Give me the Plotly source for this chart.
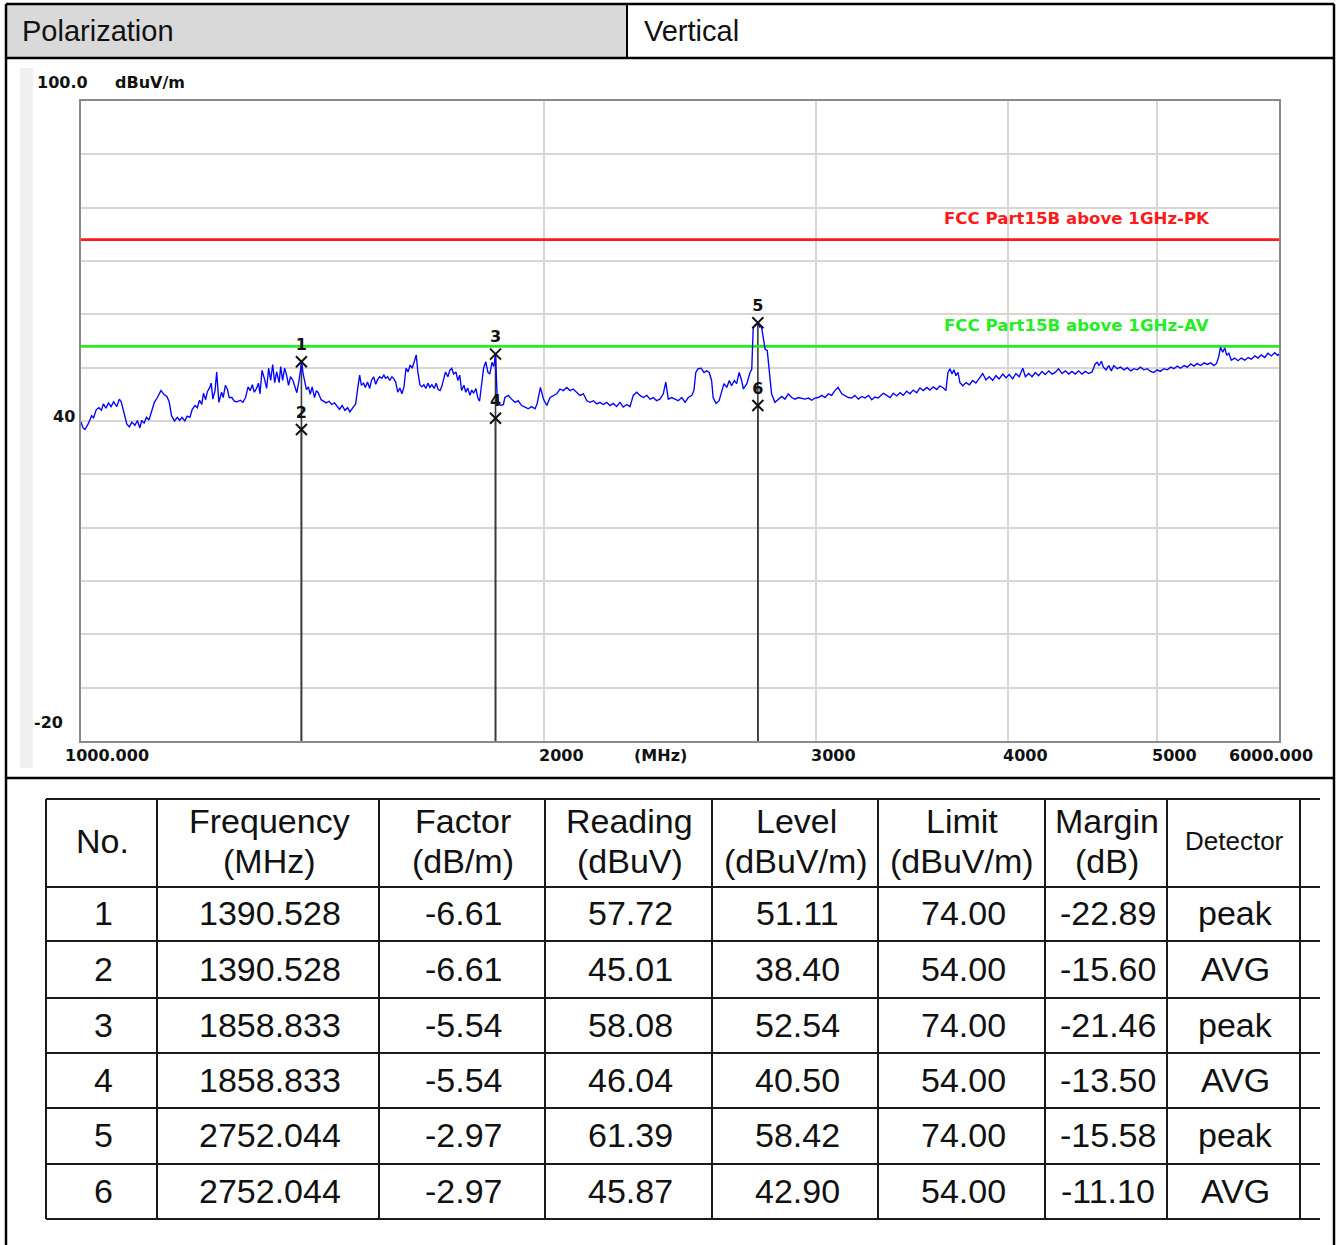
import math
import plotly.graph_objects as go

W, H = 1338, 1245


def X(px):
    return px / W


def Y(py):
    return 1 - py / H


# ---------------- data ----------------
polarization_label = "Polarization"
polarization_value = "Vertical"

trace_mhz = [
    1000, 1003, 1006, 1011, 1016, 1019, 1023, 1027, 1031, 1034,
    1038, 1042, 1046, 1050, 1055, 1059, 1062, 1067, 1071, 1075,
    1079, 1084, 1088, 1092, 1095, 1099, 1103, 1107, 1112, 1116,
    1121, 1124, 1127, 1132, 1137, 1141, 1145, 1150, 1155, 1159,
    1163, 1168, 1172, 1177, 1181, 1186, 1190, 1194, 1198, 1201,
    1205, 1208, 1212, 1215, 1218, 1222, 1225, 1229, 1234, 1237,
    1241, 1245, 1248, 1253, 1258, 1263, 1269, 1274, 1279, 1284,
    1288, 1292, 1296, 1300, 1304, 1307, 1311, 1316, 1320, 1324,
    1328, 1332, 1336, 1340, 1345, 1348, 1352, 1356, 1360, 1364,
    1368, 1373, 1377, 1381, 1385, 1388, 1391, 1394, 1397, 1401,
    1405, 1409, 1413, 1418, 1422, 1426, 1432, 1438, 1443, 1449,
    1455, 1461, 1466, 1472, 1478, 1484, 1490, 1495, 1501, 1508,
    1512, 1517, 1521, 1526, 1530, 1535, 1540, 1544, 1549, 1554,
    1558, 1563, 1568, 1573, 1577, 1582, 1587, 1592, 1596, 1601,
    1606, 1611, 1616, 1621, 1626, 1631, 1636, 1641, 1646, 1651,
    1655, 1660, 1665, 1670, 1675, 1680, 1685, 1690, 1696, 1701,
    1706, 1711, 1715, 1720, 1725, 1731, 1736, 1741, 1746, 1752,
    1757, 1762, 1767, 1773, 1778, 1783, 1789, 1794, 1799, 1805,
    1810, 1815, 1821, 1826, 1832, 1838, 1843, 1849, 1854, 1859,
    1863, 1867, 1874, 1881,
    1885, 1895, 1904, 1914, 1923, 1933, 1943, 1952, 1962, 1972,
    1978, 1988, 1997, 2007, 2017, 2027, 2037, 2047, 2057, 2068,
    2078, 2088, 2099, 2109, 2120, 2131, 2141, 2152, 2163, 2173,
    2184, 2195, 2206, 2217, 2228, 2239, 2250, 2262, 2273, 2284,
    2296, 2307, 2319, 2331, 2342, 2354, 2365, 2377, 2389, 2398,
    2407, 2419, 2431, 2443, 2456, 2468, 2480, 2493, 2501, 2508,
    2517, 2528, 2539, 2549, 2559, 2568, 2574, 2585, 2597, 2607,
    2616, 2627, 2637, 2646, 2657, 2666, 2676, 2686, 2693, 2707,
    2720, 2727, 2733, 2741, 2752, 2760, 2766, 2772, 2782, 2791,
    2800, 2809, 2823, 2837, 2852, 2866, 2880, 2895, 2909, 2923,
    2939, 2953, 2968, 2983, 2997, 3012, 3028, 3043, 3058, 3073,
    3088, 3103, 3120, 3135, 3151, 3167, 3182, 3198, 3215, 3230,
    3247, 3263, 3279, 3294,
    3320, 3337, 3354, 3370, 3387, 3404, 3421, 3438, 3455, 3472,
    3490, 3507, 3525, 3543, 3560, 3578, 3596, 3613, 3632, 3646,
    3657, 3668, 3679, 3690, 3701, 3712, 3723, 3739, 3757, 3776,
    3795, 3813, 3832, 3852, 3871, 3890, 3910, 3929, 3948, 3969,
    3989, 4008, 4029, 4048, 4068, 4090, 4106, 4126, 4147, 4167,
    4188, 4209, 4230, 4252, 4273, 4293, 4315, 4337, 4359, 4381,
    4402, 4424, 4446, 4469, 4491, 4514, 4536, 4558, 4571, 4585,
    4600, 4614, 4632, 4651, 4669, 4687, 4710, 4734, 4759, 4782,
    4806, 4830, 4853, 4877, 4902, 4927, 4951, 4976, 5000, 5024,
    5052, 5077, 5103, 5128, 5153, 5179, 5206, 5231, 5258, 5284,
    5309, 5336, 5364, 5390, 5417, 5444, 5465, 5481, 5497, 5516,
    5532, 5549, 5566, 5587, 5615, 5643, 5671, 5701, 5729, 5757,
    5787, 5815, 5843, 5873, 5902, 5931, 5961, 5990, 6000,
]

trace_dbuv = [
    39.8, 38.7, 38.4, 39.5, 41.0, 40.6, 42.1, 42.5, 42.0, 43.2,
    42.4, 43.4, 42.7, 43.6, 42.7, 44.1, 43.6, 41.3, 39.4, 38.9,
    39.8, 39.2, 40.1, 38.7, 40.1, 39.6, 40.7, 40.2, 41.9, 43.5,
    44.4, 45.0, 45.7, 45.0, 44.6, 43.6, 41.0, 40.0, 40.7, 40.1,
    40.7, 40.0, 40.9, 40.7, 42.2, 42.9, 42.5, 43.9, 43.1, 45.2,
    44.0, 45.5, 46.2, 47.1, 44.1, 45.7, 49.2, 43.5, 45.4, 44.4,
    46.7, 45.9, 44.4, 44.4, 43.7, 43.6, 43.9, 43.5, 44.4, 46.4,
    45.7, 46.8, 45.4, 46.1, 47.1, 45.1, 49.5, 47.8, 46.1, 49.9,
    47.6, 50.6, 47.2, 49.2, 47.2, 50.2, 47.6, 49.9, 48.6, 46.7,
    48.3, 47.6, 46.3, 45.3, 47.3, 49.2, 51.1, 48.9, 47.5, 45.9,
    46.4, 45.0, 46.4, 44.4, 45.7, 45.3, 44.0, 43.7, 43.4, 43.7,
    43.1, 43.4, 42.9, 42.2, 42.9, 42.0, 42.5, 41.7, 42.4, 43.2,
    45.7, 48.6, 46.7, 47.1, 46.3, 47.3, 46.1, 47.6, 48.3, 46.9,
    47.7, 48.3, 48.0, 48.6, 48.0, 48.3, 47.6, 48.3, 48.0, 47.3,
    45.4, 46.2, 45.1, 46.4, 49.9, 49.2, 50.5, 49.9, 51.1, 52.4,
    49.2, 46.8, 46.4, 46.8, 46.1, 47.1, 46.3, 46.8, 46.1, 47.1,
    45.9, 45.7, 46.4, 47.7, 49.2, 48.3, 49.5, 49.9, 48.8, 49.2,
    47.6, 48.6, 45.7, 46.7, 45.4, 46.2, 44.8, 45.8, 45.2, 46.1,
    44.4, 43.7, 46.7, 49.9, 51.1, 49.1, 48.8, 51.0, 50.2, 52.5,
    45.1, 43.2, 42.9, 43.1,
    44.4, 44.8, 44.1, 43.5, 43.8, 42.9, 42.6, 42.3, 42.7, 42.3,
    43.2, 46.3, 44.1, 42.9, 44.4, 44.8, 45.1, 46.0, 45.7, 46.3,
    45.7, 46.0, 45.4, 44.8, 45.1, 43.8, 43.5, 43.8, 43.2, 43.5,
    43.1, 43.5, 42.9, 43.3, 42.7, 43.5, 42.6, 43.1, 42.7, 44.8,
    45.4, 44.8, 44.4, 44.8, 44.1, 44.4, 43.8, 44.1, 45.1, 47.3,
    44.1, 44.4, 44.1, 43.8, 44.4, 43.5, 44.4, 44.8, 45.7, 49.1,
    49.8, 49.9, 49.1, 49.4, 49.1, 47.6, 44.4, 43.3, 43.8, 45.4,
    47.0, 46.3, 47.6, 46.6, 47.6, 47.0, 49.1, 47.6, 46.0, 47.0,
    49.1, 49.7, 57.6, 58.0, 58.4, 57.6, 57.9, 56.3, 53.5, 53.2,
    48.8, 45.1, 43.5, 44.1, 44.6, 44.1, 45.1, 44.4, 44.1, 44.4,
    44.3, 44.1, 44.3, 43.9, 44.3, 44.4, 44.8, 44.4, 45.1, 44.8,
    45.7, 46.3, 45.1, 44.8, 44.4, 44.3, 44.8, 44.1, 44.6, 44.3,
    44.8, 44.0, 44.5, 44.3,
    45.2, 44.8, 44.4, 45.2, 44.7, 45.3, 44.8, 45.6, 45.1, 45.8,
    45.3, 46.2, 45.7, 46.3, 45.8, 46.4, 45.9, 46.6, 46.2, 45.7,
    49.1, 49.8, 48.8, 49.6, 48.5, 49.1, 47.2, 46.6, 47.2, 46.8,
    47.6, 47.1, 47.9, 48.9, 47.7, 48.3, 47.6, 48.5, 47.9, 48.8,
    48.1, 48.7, 47.9, 48.9, 48.3, 49.9, 48.3, 48.9, 48.3, 49.1,
    48.5, 49.3, 48.7, 49.4, 48.8, 49.1, 49.8, 48.9, 49.4, 48.8,
    49.3, 48.8, 49.4, 48.8, 49.3, 48.9, 49.2, 50.7, 51.0, 50.4,
    51.2, 50.1, 49.6, 50.4, 49.4, 50.4, 49.8, 50.1, 49.6, 50.0,
    49.4, 49.8, 49.6, 50.1, 49.6, 49.8, 49.3, 49.1, 49.6, 49.3,
    49.8, 49.6, 50.1, 49.8, 50.3, 49.9, 50.4, 50.1, 50.7, 50.3,
    50.8, 50.4, 50.9, 50.6, 50.9, 50.4, 50.8, 51.9, 53.8, 52.9,
    53.7, 52.3, 52.7, 51.4, 51.8, 51.3, 51.8, 51.4, 51.9, 51.6,
    52.2, 51.8, 52.4, 51.9, 52.7, 52.2, 52.8, 52.3, 52.6,
]

limit_pk = 74.0
limit_av = 54.0
limit_pk_label = "FCC Part15B above 1GHz-PK"
limit_av_label = "FCC Part15B above 1GHz-AV"

x_range_mhz = [1000, 6000]
y_range = [-20, 100]
x_grid_mhz = [2000, 3000, 4000, 5000]
x_tick_vals = [1000, 2000, 3000, 4000, 5000, 6000]
x_tick_text = ["1000.000", "2000", "3000", "4000", "5000", "6000.000"]
x_unit = "(MHz)"
y_unit = "dBuV/m"
y_tick_vals = [100, 40, -20]
y_tick_text = ["100.0", "40", "-20"]

# table
col_headers = [["No."], ["Frequency", "(MHz)"], ["Factor", "(dB/m)"],
               ["Reading", "(dBuV)"], ["Level", "(dBuV/m)"],
               ["Limit", "(dBuV/m)"], ["Margin", "(dB)"], ["Detector"]]
mk_no = [1, 2, 3, 4, 5, 6]
mk_freq = [1390.528, 1390.528, 1858.833, 1858.833, 2752.044, 2752.044]
mk_factor = [-6.61, -6.61, -5.54, -5.54, -2.97, -2.97]
mk_reading = [57.72, 45.01, 58.08, 46.04, 61.39, 45.87]
mk_level = [51.11, 38.40, 52.54, 40.50, 58.42, 42.90]
mk_limit = [74.00, 54.00, 74.00, 54.00, 74.00, 54.00]
mk_margin = [-22.89, -15.60, -21.46, -13.50, -15.58, -11.10]
mk_detector = ["peak", "AVG", "peak", "AVG", "peak", "AVG"]

# ---------------- figure ----------------
fig = go.Figure()

CHART_FONT = "DejaVu Sans"
TABLE_FONT = "Arial, Liberation Sans, sans-serif"

# marker drop lines
vx, vy = [], []
for f, lv in zip(mk_freq, mk_level):
    vx += [f, f, None]
    vy += [lv, y_range[0], None]
fig.add_trace(go.Scatter(x=vx, y=vy, mode="lines",
                         line=dict(color="#3a3a3a", width=1.6),
                         hoverinfo="skip", showlegend=False))

# limit lines
fig.add_trace(go.Scatter(x=x_range_mhz, y=[limit_pk, limit_pk], mode="lines",
                         line=dict(color="#ff1a1a", width=2.6), showlegend=False))
fig.add_trace(go.Scatter(x=x_range_mhz, y=[limit_av, limit_av], mode="lines",
                         line=dict(color="#22ee22", width=2.6), showlegend=False))

# spectrum trace
fig.add_trace(go.Scatter(x=trace_mhz, y=trace_dbuv, mode="lines",
                         line=dict(color="#0000ff", width=1.35), showlegend=False))

# markers
fig.add_trace(go.Scatter(x=mk_freq, y=mk_level, mode="markers+text",
                         text=[str(n) for n in mk_no], textposition="top center",
                         textfont=dict(family=CHART_FONT, size=16, color="#111111", weight="bold"),
                         marker=dict(symbol="x-thin", size=11,
                                     line=dict(color="#111111", width=2)),
                         showlegend=False))

shapes = []


def line(x0, y0, x1, y1, color="black", w=2):
    shapes.append(dict(type="line", xref="paper", yref="paper",
                       x0=X(x0), y0=Y(y0), x1=X(x1), y1=Y(y1),
                       line=dict(color=color, width=w), layer="above"))


def rect(x0, y0, x1, y1, fill):
    shapes.append(dict(type="rect", xref="paper", yref="paper",
                       x0=X(x0), y0=Y(y0), x1=X(x1), y1=Y(y1),
                       fillcolor=fill, line=dict(width=0), layer="below"))


# page frame
rect(6, 4, 627, 58, "#d9d9d9")
rect(20, 68, 33, 768, "#f0f0f0")
line(6, 4, 1334, 4, w=2.5)
line(6, 58, 1334, 58, w=2.5)
line(6, 778, 1334, 778, w=2.5)
line(6, 4, 6, 1245, w=2.5)
line(1334, 4, 1334, 1245, w=2.5)
line(627, 4, 627, 58, w=2)

# table grid
tbl_x = [46, 157, 379, 545, 712, 878, 1045, 1167, 1300]
tbl_y = [799, 887, 941, 998, 1053, 1108, 1164, 1219]
for yy in tbl_y:
    line(46, yy, 1320, yy, color="#1a1a1a", w=2)
for xx in tbl_x:
    line(xx, 799, xx, 1219, color="#1a1a1a", w=2)

ann = []


def text(px, py, s, size, anchor="center", family=TABLE_FONT, color="#111111", weight="normal"):
    ann.append(dict(xref="paper", yref="paper", x=X(px), y=Y(py), text=s,
                    showarrow=False, xanchor=anchor, yanchor="middle",
                    font=dict(family=family, size=size, color=color, weight=weight)))


text(20, 31, polarization_label, 29, anchor="left")
text(642, 31, polarization_value, 29, anchor="left")

# table headers
centers = [(tbl_x[i] + tbl_x[i + 1]) / 2 for i in range(len(tbl_x) - 1)]
for c, hdr in zip(centers, col_headers):
    if len(hdr) == 1:
        size = 26 if hdr[0] == "Detector" else 34
        text(c + 1, 841, hdr[0], size)
    else:
        text(c + 1, 821, hdr[0], 34)
        text(c + 1, 861, hdr[1], 34)

row_centers = [(tbl_y[i] + tbl_y[i + 1]) / 2 for i in range(1, len(tbl_y) - 1)]
for r, yc in enumerate(row_centers):
    vals = [str(mk_no[r]), f"{mk_freq[r]:.3f}", f"{mk_factor[r]:.2f}",
            f"{mk_reading[r]:.2f}", f"{mk_level[r]:.2f}", f"{mk_limit[r]:.2f}",
            f"{mk_margin[r]:.2f}", mk_detector[r]]
    for c, v in zip(centers, vals):
        text(c + 2, yc - 1, v, 34)

# chart labels
def chart_ann(**kw):
    base = dict(showarrow=False, yanchor="middle",
                font=dict(family=CHART_FONT, size=16, color="#111111", weight="bold"))
    f = kw.pop("font", None)
    base.update(kw)
    if f:
        base["font"] = f
    ann.append(base)


shifts = {"1000.000": -18, "6000.000": -52}
for v, t in zip(x_tick_vals, x_tick_text):
    chart_ann(xref="x", yref="paper", x=math.log10(v), y=Y(755), text=t,
              xanchor="left", xshift=shifts.get(t, -7))
chart_ann(xref="paper", yref="paper", x=X(632), y=Y(755), text=x_unit, xanchor="left")

chart_ann(xref="paper", yref="y", x=X(35), y=y_tick_vals[0], yshift=18,
          text=y_tick_text[0], xanchor="left")
chart_ann(xref="paper", yref="paper", x=X(113), y=Y(83), text=y_unit, xanchor="left")
chart_ann(xref="paper", yref="y", x=X(77), y=y_tick_vals[1], yshift=5,
          text=y_tick_text[1], xanchor="right")
chart_ann(xref="paper", yref="y", x=X(65), y=y_tick_vals[2], yshift=19,
          text=y_tick_text[2], xanchor="right")

chart_ann(xref="paper", yref="y", x=X(942), y=limit_pk, yshift=21, text=limit_pk_label,
          xanchor="left", font=dict(family=CHART_FONT, size=16.6, color="#ff1a1a", weight="bold"))
chart_ann(xref="paper", yref="y", x=X(942), y=limit_av, yshift=21, text=limit_av_label,
          xanchor="left", font=dict(family=CHART_FONT, size=16.6, color="#22ee22", weight="bold"))

fig.update_layout(
    width=W, height=H,
    margin=dict(l=0, r=0, t=0, b=0),
    paper_bgcolor="white", plot_bgcolor="white",
    shapes=shapes, annotations=ann,
    showlegend=False,
    xaxis=dict(type="log", range=[math.log10(x_range_mhz[0]), math.log10(x_range_mhz[1])],
               domain=[X(81), X(1279)], tickvals=x_grid_mhz, showticklabels=False,
               ticks="", showgrid=True, gridcolor="#d9d6d1", gridwidth=1.6,
               zeroline=False, showline=True, linecolor="#8a8a8a", linewidth=2, mirror=True),
    yaxis=dict(range=y_range, domain=[Y(741), Y(101)], tick0=0, dtick=10,
               showticklabels=False, ticks="", showgrid=True, gridcolor="#d9d6d1",
               gridwidth=1.6, zeroline=False, showline=True, linecolor="#8a8a8a",
               linewidth=2, mirror=True),
)

fig.write_html("out.html", config={"displayModeBar": False},
               post_script="document.body.style.margin='0';document.body.style.overflow='hidden';")
